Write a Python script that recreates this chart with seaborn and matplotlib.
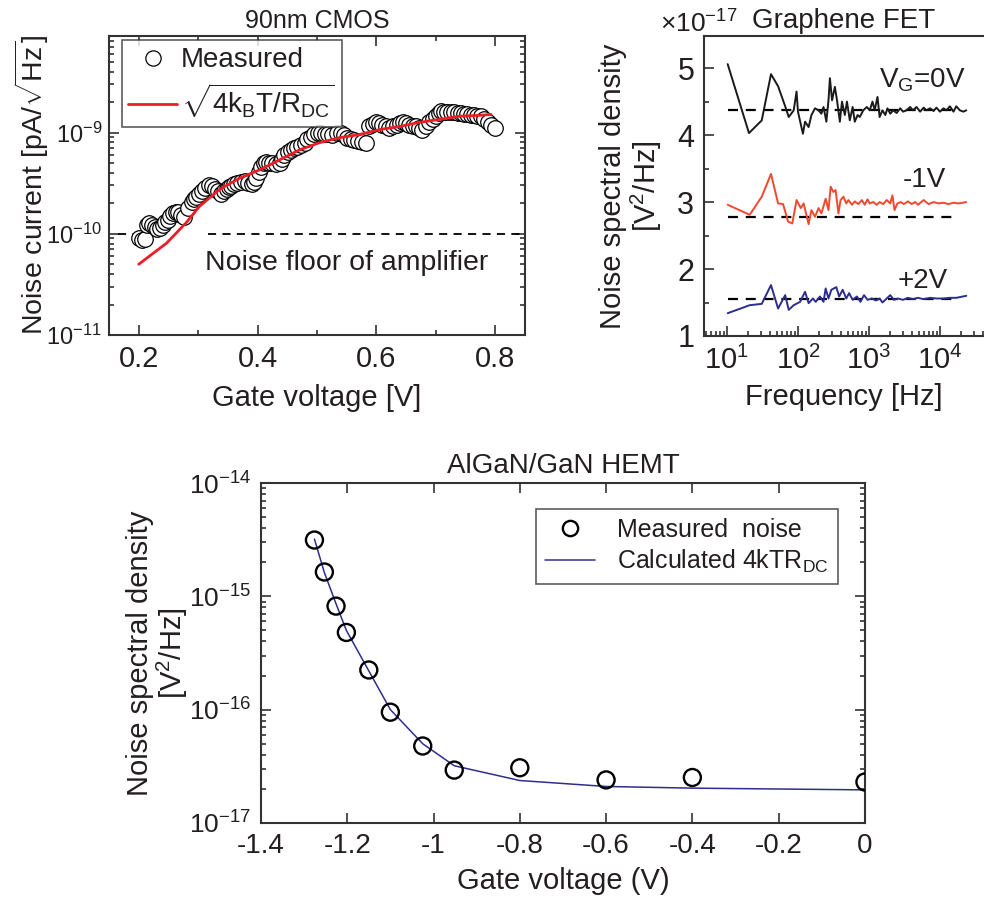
import numpy as np
import pandas as pd
import matplotlib
matplotlib.use("Agg")
import matplotlib.pyplot as plt
import seaborn as sns
from matplotlib.ticker import (FixedLocator, LogLocator, NullFormatter,
                               LogFormatterSciNotation, MultipleLocator, FuncFormatter)
from matplotlib.lines import Line2D

# ---------------- data ----------------
# 90nm CMOS: measured noise current vs gate voltage
cmos_v = [0.200, 0.205, 0.210, 0.214, 0.218, 0.223, 0.227, 0.231, 0.235, 0.240,
          0.245, 0.249, 0.253, 0.257, 0.262, 0.266, 0.271, 0.277, 0.283, 0.289,
          0.293, 0.297, 0.302, 0.306, 0.312, 0.319, 0.323, 0.328, 0.333, 0.339,
          0.344, 0.348, 0.352, 0.356, 0.361, 0.366, 0.372, 0.378, 0.384, 0.390,
          0.394, 0.398, 0.402, 0.406, 0.410, 0.414, 0.420, 0.425, 0.431, 0.437,
          0.441, 0.445, 0.451, 0.457, 0.462, 0.467, 0.473, 0.479, 0.484, 0.490,
          0.495, 0.501, 0.507, 0.513, 0.519, 0.526, 0.533, 0.541, 0.546, 0.551,
          0.557, 0.563, 0.569, 0.575, 0.583, 0.588, 0.594, 0.600, 0.605, 0.610,
          0.616, 0.622, 0.628, 0.634, 0.639, 0.644, 0.650, 0.655, 0.661, 0.667,
          0.672, 0.677, 0.683, 0.689, 0.695, 0.701, 0.705, 0.709, 0.714, 0.719,
          0.725, 0.731, 0.737, 0.743, 0.748, 0.753, 0.759, 0.765, 0.770, 0.776,
          0.781, 0.787, 0.793, 0.800]
cmos_noise = [9.1e-11, 8.6e-11, 8.8e-11, 1.22e-10, 1.29e-10, 1.22e-10, 1.17e-10, 1.12e-10, 1.15e-10, 1.22e-10,
              1.32e-10, 1.38e-10, 1.50e-10, 1.60e-10, 1.65e-10, 1.63e-10, 1.55e-10, 1.48e-10, 1.80e-10, 2.04e-10,
              2.20e-10, 2.32e-10, 2.50e-10, 2.65e-10, 2.85e-10, 3.02e-10, 2.95e-10, 2.80e-10, 2.62e-10, 2.50e-10,
              2.62e-10, 2.75e-10, 2.88e-10, 2.97e-10, 3.08e-10, 3.18e-10, 3.28e-10, 3.35e-10, 3.20e-10, 3.10e-10,
              3.25e-10, 3.55e-10, 4.10e-10, 4.57e-10, 4.95e-10, 5.13e-10, 5.05e-10, 4.95e-10, 4.90e-10, 5.01e-10,
              5.50e-10, 6.03e-10, 6.45e-10, 6.76e-10, 7.00e-10, 7.24e-10, 7.55e-10, 7.94e-10, 8.60e-10, 9.12e-10,
              9.60e-10, 1.00e-9, 9.90e-10, 9.77e-10, 9.65e-10, 9.55e-10, 9.80e-10, 1.00e-9, 9.50e-10, 8.91e-10,
              8.70e-10, 8.51e-10, 8.30e-10, 8.13e-10, 7.90e-10, 1.15e-9, 1.22e-9, 1.26e-9, 1.24e-9, 1.20e-9,
              1.16e-9, 1.12e-9, 1.16e-9, 1.20e-9, 1.23e-9, 1.26e-9, 1.23e-9, 1.20e-9, 1.17e-9, 1.15e-9,
              1.11e-9, 1.07e-9, 1.15e-9, 1.26e-9, 1.36e-9, 1.45e-9, 1.55e-9, 1.62e-9, 1.60e-9, 1.58e-9,
              1.58e-9, 1.58e-9, 1.56e-9, 1.55e-9, 1.53e-9, 1.51e-9, 1.50e-9, 1.48e-9, 1.46e-9, 1.45e-9,
              1.36e-9, 1.26e-9, 1.18e-9, 1.12e-9]
cmos_fit_v = [0.200, 0.247, 0.280, 0.302, 0.336, 0.370, 0.403, 0.437, 0.471, 0.504,
              0.538, 0.571, 0.605, 0.639, 0.672, 0.706, 0.739, 0.773, 0.793]
cmos_fit = [5.0e-11, 8.1e-11, 1.29e-10, 1.86e-10, 2.75e-10, 3.55e-10, 4.27e-10, 5.37e-10, 6.76e-10, 7.94e-10,
            8.91e-10, 9.55e-10, 1.07e-9, 1.15e-9, 1.26e-9, 1.35e-9, 1.45e-9, 1.48e-9, 1.51e-9]
cmos_floor = 1e-10
cmos_floor_v = [0.316, 0.85]
cmos_floor_v_left = [0.165, 0.19]

# Graphene FET: noise spectral density vs frequency (log10 of frequency in Hz)
g0_logf = [1.01, 1.31, 1.49, 1.62, 1.72, 1.82, 1.87, 1.94, 1.98, 2.00, 2.07, 2.10, 2.15, 2.19, 2.24,
           2.29, 2.33, 2.36, 2.40, 2.43, 2.45, 2.48, 2.52, 2.55, 2.59, 2.62, 2.66, 2.69, 2.73, 2.77,
           2.80, 2.84, 2.87, 2.92, 2.97, 3.01, 3.05, 3.08, 3.12, 3.15, 3.19, 3.23, 3.26, 3.30, 3.34,
           3.39, 3.44, 3.48, 3.53, 3.58, 3.62, 3.67, 3.72, 3.77, 3.81, 3.86, 3.91, 3.95, 4.00, 4.05,
           4.09, 4.14, 4.19, 4.23, 4.28, 4.33, 4.37]
g0_psd = [5.06, 4.03, 4.22, 4.91, 4.73, 4.43, 4.27, 4.37, 4.65, 4.35, 4.02, 4.20, 4.12, 4.30, 4.40,
          4.37, 4.32, 4.42, 4.20, 4.52, 4.85, 4.52, 4.72, 4.52, 4.20, 4.50, 4.30, 4.50, 4.22, 4.42,
          4.20, 4.30, 4.27, 4.37, 4.42, 4.37, 4.50, 4.37, 4.57, 4.27, 4.37, 4.30, 4.40, 4.32, 4.37,
          4.33, 4.40, 4.35, 4.37, 4.42, 4.37, 4.42, 4.35, 4.41, 4.37, 4.40, 4.36, 4.41, 4.35, 4.40,
          4.37, 4.43, 4.35, 4.43, 4.37, 4.35, 4.37]
gm1_logf = [1.01, 1.32, 1.49, 1.62, 1.72, 1.79, 1.86, 1.92, 1.98, 2.04, 2.08, 2.15, 2.19, 2.24, 2.29,
            2.33, 2.39, 2.43, 2.46, 2.50, 2.53, 2.57, 2.60, 2.64, 2.68, 2.71, 2.76, 2.80, 2.85, 2.90,
            2.94, 2.98, 3.01, 3.06, 3.11, 3.15, 3.20, 3.25, 3.30, 3.33, 3.36, 3.40, 3.45, 3.49, 3.55,
            3.60, 3.65, 3.69, 3.77, 3.84, 3.91, 3.98, 4.05, 4.12, 4.19, 4.26, 4.32, 4.37]
gm1_psd = [2.96, 2.81, 3.08, 3.42, 2.98, 2.97, 2.71, 2.68, 3.03, 2.91, 2.98, 2.67, 2.88, 2.78, 2.91,
           2.83, 3.05, 2.88, 3.23, 3.15, 3.18, 2.83, 3.03, 3.08, 2.98, 3.03, 2.96, 3.01, 2.97, 3.03,
           2.96, 3.04, 2.98, 3.00, 2.96, 3.00, 2.97, 3.03, 2.98, 3.10, 2.88, 2.98, 3.00, 2.97, 3.01,
           2.97, 3.00, 2.96, 3.03, 2.97, 3.00, 2.98, 2.99, 2.97, 2.99, 2.98, 2.99, 3.00]
gp2_logf = [1.01, 1.32, 1.49, 1.62, 1.72, 1.82, 1.87, 1.94, 2.03, 2.10, 2.15, 2.21, 2.25, 2.31, 2.36,
            2.39, 2.43, 2.47, 2.54, 2.58, 2.63, 2.68, 2.72, 2.77, 2.83, 2.88, 2.93, 2.98, 3.04, 3.10,
            3.15, 3.19, 3.25, 3.30, 3.35, 3.41, 3.48, 3.55, 3.62, 3.69, 3.77, 3.86, 3.95, 4.05, 4.14,
            4.23, 4.37]
gp2_psd = [1.34, 1.46, 1.48, 1.76, 1.41, 1.61, 1.39, 1.46, 1.51, 1.66, 1.49, 1.56, 1.51, 1.59, 1.51,
           1.71, 1.56, 1.69, 1.73, 1.59, 1.69, 1.56, 1.64, 1.54, 1.59, 1.51, 1.61, 1.54, 1.56, 1.53,
           1.56, 1.50, 1.56, 1.61, 1.54, 1.56, 1.54, 1.57, 1.55, 1.57, 1.55, 1.57, 1.56, 1.56, 1.57,
           1.57, 1.60]
g_scale = 1e-17
g_levels = [4.38, 2.78, 1.55]
g_level_f = [10.2, 1.7e4]
g_labels = [r"V$_\mathregular{G}$=0V", "-1V", "+2V"]

# AlGaN/GaN HEMT
hemt_v = [-1.276, -1.253, -1.226, -1.202, -1.150, -1.100, -1.025, -0.952, -0.800, -0.600, -0.400, 0.000]
hemt_meas = [3.14e-15, 1.64e-15, 8.2e-16, 4.8e-16, 2.24e-16, 9.5e-17, 4.78e-17, 2.93e-17, 3.07e-17,
             2.40e-17, 2.52e-17, 2.30e-17]
hemt_calc = [3.2e-15, 1.62e-15, 8.6e-16, 5.0e-16, 2.2e-16, 1.0e-16, 5.0e-17, 3.2e-17, 2.37e-17,
             2.10e-17, 2.03e-17, 1.96e-17]
hemt_xticks = [-1.4, -1.2, -1.0, -0.8, -0.6, -0.4, -0.2, 0.0]

# ---------------- style ----------------
sns.set_style("ticks")
plt.rcParams["font.family"] = ["Liberation Sans", "DejaVu Sans"]
plt.rcParams["mathtext.fontset"] = "custom"
plt.rcParams["mathtext.rm"] = "Liberation Sans"
plt.rcParams["mathtext.it"] = "Liberation Sans:italic"
plt.rcParams["mathtext.bf"] = "Liberation Sans:bold"
plt.rcParams["axes.unicode_minus"] = False
plt.rcParams["xtick.direction"] = "in"
plt.rcParams["ytick.direction"] = "in"

TXT = "#231f20"
fig = plt.figure(figsize=(9.84, 9.02), dpi=100)

# ---------------- panel 1: 90nm CMOS ----------------
ax1 = fig.add_axes([0.1108, 0.6286, 0.4227, 0.3315])
df1 = pd.DataFrame({"v": cmos_v, "n": cmos_noise})
sns.scatterplot(data=df1, x="v", y="n", ax=ax1, marker="o", s=125,
                facecolor="white", edgecolor="black", linewidth=0.9, zorder=3, legend=False)
df1f = pd.DataFrame({"v": cmos_fit_v, "n": cmos_fit})
sns.lineplot(data=df1f, x="v", y="n", ax=ax1, color="#ee1c25", lw=2.0, sort=False,
             estimator=None, zorder=4, legend=False)
for seg in (cmos_floor_v, cmos_floor_v_left):
    ax1.plot(seg, [cmos_floor, cmos_floor], ls=(0, (4.5, 3.5)), color="black", lw=1.3, zorder=2)
ax1.set_yscale("log")
ax1.set_xlim(0.15, 0.85)
ax1.set_ylim(1e-11, 9e-9)
ax1.xaxis.set_major_locator(FixedLocator([0.2, 0.4, 0.6, 0.8]))
ax1.xaxis.set_minor_locator(MultipleLocator(0.1))
ax1.xaxis.set_major_formatter(FuncFormatter(lambda v, p: f"{v:.1f}"))
ax1.yaxis.set_major_locator(LogLocator(base=10, numticks=10))
ax1.yaxis.set_minor_locator(LogLocator(base=10, subs=np.arange(2, 10), numticks=20))
ax1.yaxis.set_minor_formatter(NullFormatter())
ax1.tick_params(which="both", top=True, right=True, colors=TXT, width=1.1)
ax1.tick_params(which="major", length=7)
ax1.tick_params(axis="x", labelsize=21, pad=7)
ax1.tick_params(axis="y", labelsize=17, pad=5)
ax1.tick_params(which="minor", length=3.5)
ax1.set_xlabel("Gate voltage [V]", fontsize=21, color=TXT, labelpad=8)
ax1.set_ylabel(r"Noise current [pA/$\sqrt{\mathregular{Hz}}$]", fontsize=20.5, color=TXT)
ax1.yaxis.set_label_coords(-0.14, 0.5)
ax1.set_title("90nm CMOS", fontsize=18, color=TXT, pad=6)
ax1.text(0.311, 5.2e-11, "Noise floor of amplifier", fontsize=20.5, color=TXT, ha="left", va="center")
for s in ax1.spines.values():
    s.set_linewidth(1.5)
    s.set_color("#333333")
h1 = [Line2D([], [], ls="none", marker="o", markersize=11, markerfacecolor="white",
             markeredgecolor="black", markeredgewidth=0.9),
      Line2D([], [], color="#ee1c25", lw=2.0)]
leg1 = ax1.legend(h1, ["Measured", r"$\sqrt{\mathregular{4k_BT/R_{DC}}}$"], loc="upper left",
                  bbox_to_anchor=(0.03, 0.985), fontsize=20, frameon=True, fancybox=False,
                  edgecolor="#333333", handlelength=1.75, handletextpad=0.15, borderpad=0.25,
                  labelspacing=0.3, borderaxespad=0)
leg1.get_frame().set_linewidth(1.2)
for t in leg1.get_texts():
    t.set_color(TXT)

# ---------------- panel 2: Graphene FET ----------------
ax2 = fig.add_axes([0.7154, 0.6275, 0.2846, 0.3326])
series = [(g0_logf, g0_psd, "#1a1a1a"), (gm1_logf, gm1_psd, "#f2492e"), (gp2_logf, gp2_psd, "#2d2d8c")]
for lf, psd, col in series:
    d = pd.DataFrame({"f": np.power(10.0, lf), "p": np.array(psd) * g_scale})
    sns.lineplot(data=d, x="f", y="p", ax=ax2, color=col, lw=1.4, sort=False,
                 estimator=None, legend=False)
for lev in g_levels:
    ax2.plot(g_level_f, [lev * g_scale] * 2, ls=(0, (4.5, 3.5)), color="black", lw=1.6, zorder=1)
ax2.set_xscale("log")
ax2.set_xlim(10 ** 0.676, 10 ** 4.62)
ax2.set_ylim(1.0 * g_scale, 5.48 * g_scale)
ax2.xaxis.set_major_locator(LogLocator(base=10, numticks=10))
ax2.xaxis.set_major_formatter(LogFormatterSciNotation())
ax2.xaxis.set_minor_locator(LogLocator(base=10, subs=np.arange(2, 10), numticks=20))
ax2.xaxis.set_minor_formatter(NullFormatter())
ax2.yaxis.set_major_locator(FixedLocator([v * g_scale for v in [1, 2, 3, 4, 5]]))
ax2.yaxis.set_minor_locator(FixedLocator([v * g_scale for v in [1.5, 2.5, 3.5, 4.5]]))
ax2.yaxis.set_major_formatter(FuncFormatter(lambda v, p: f"{v / g_scale:.0f}"))
ax2.tick_params(which="both", top=False, right=False, colors=TXT, width=1.1)
ax2.tick_params(which="major", length=7, pad=7)
ax2.tick_params(which="minor", length=3.5)
ax2.tick_params(axis="y", labelsize=22)
ax2.tick_params(axis="x", labelsize=21)
ax2.spines["right"].set_visible(False)
for s in ["left", "bottom", "top"]:
    ax2.spines[s].set_linewidth(1.5)
    ax2.spines[s].set_color("#333333")
ax2.set_xlabel("Frequency [Hz]", fontsize=21, color=TXT, labelpad=6)
ax2.set_ylabel("Noise spectral density\n" + r"[V$^\mathregular{2}$/Hz]", fontsize=21,
               color=TXT, linespacing=1.05)
ax2.yaxis.set_label_coords(-0.143, 0.5)
ax2.set_title("Graphene FET", fontsize=20, color=TXT, pad=6)
ax2.text(-0.02, 1.01, r"$\times\mathregular{10^{-17}}$", transform=ax2.transAxes, fontsize=19,
         color=TXT, ha="center", va="baseline")
for lab, (xa, ya) in zip(g_labels, [(0.78, 0.853), (0.786, 0.52), (0.782, 0.183)]):
    ax2.text(xa, ya, lab, transform=ax2.transAxes, fontsize=20, color=TXT, ha="center", va="center")

# ---------------- panel 3: AlGaN/GaN HEMT ----------------
ax3 = fig.add_axes([0.2652, 0.0876, 0.6138, 0.3769])
df3 = pd.DataFrame({"v": hemt_v, "m": hemt_meas, "c": hemt_calc})
sns.lineplot(data=df3, x="v", y="c", ax=ax3, color="#2e2e8c", lw=1.1, sort=False,
             estimator=None, legend=False, zorder=2)
sns.scatterplot(data=df3, x="v", y="m", ax=ax3, marker="o", s=150, facecolor="none",
                edgecolor="black", linewidth=1.7, legend=False, zorder=3)
ax3.set_yscale("log")
ax3.set_xlim(-1.4, 0.0)
ax3.set_ylim(1e-17, 1e-14)
ax3.xaxis.set_major_locator(FixedLocator(hemt_xticks))
ax3.xaxis.set_major_formatter(FuncFormatter(lambda v, p: f"{round(v, 1):g}" if abs(v) > 1e-9 else "0"))
ax3.yaxis.set_major_locator(LogLocator(base=10, numticks=10))
ax3.yaxis.set_minor_locator(LogLocator(base=10, subs=np.arange(2, 10), numticks=20))
ax3.yaxis.set_minor_formatter(NullFormatter())
ax3.tick_params(which="both", top=True, right=True, colors=TXT, width=1.1)
ax3.tick_params(which="major", length=7, pad=7)
ax3.tick_params(axis="x", labelsize=20)
ax3.tick_params(axis="y", labelsize=19)
ax3.tick_params(which="minor", length=3.5)
for s in ax3.spines.values():
    s.set_linewidth(1.5)
    s.set_color("#333333")
ax3.set_xlabel("Gate voltage (V)", fontsize=21, color=TXT, labelpad=6)
ax3.set_ylabel("Noise spectral density\n" + r"[V$^\mathregular{2}$/Hz]", fontsize=21,
               color=TXT, linespacing=1.05)
ax3.yaxis.set_label_coords(-0.117, 0.5)
ax3.set_title("AlGaN/GaN HEMT", fontsize=20, color=TXT, pad=7)
h3 = [Line2D([], [], ls="none", marker="o", markersize=11, markerfacecolor="none",
             markeredgecolor="black", markeredgewidth=1.7),
      Line2D([], [], color="#2e2e8c", lw=1.1)]
leg3 = ax3.legend(h3, ["Measured  noise", r"Calculated 4kTR$_\mathregular{DC}$"], loc="upper right",
                  bbox_to_anchor=(0.955, 0.924), fontsize=18, frameon=True, fancybox=False,
                  edgecolor="#333333", handlelength=2.0, handletextpad=0.9, borderpad=0.35,
                  labelspacing=0.25, borderaxespad=0)
leg3.get_frame().set_linewidth(1.2)
for t in leg3.get_texts():
    t.set_color(TXT)

fig.savefig("out.png", dpi=100)
